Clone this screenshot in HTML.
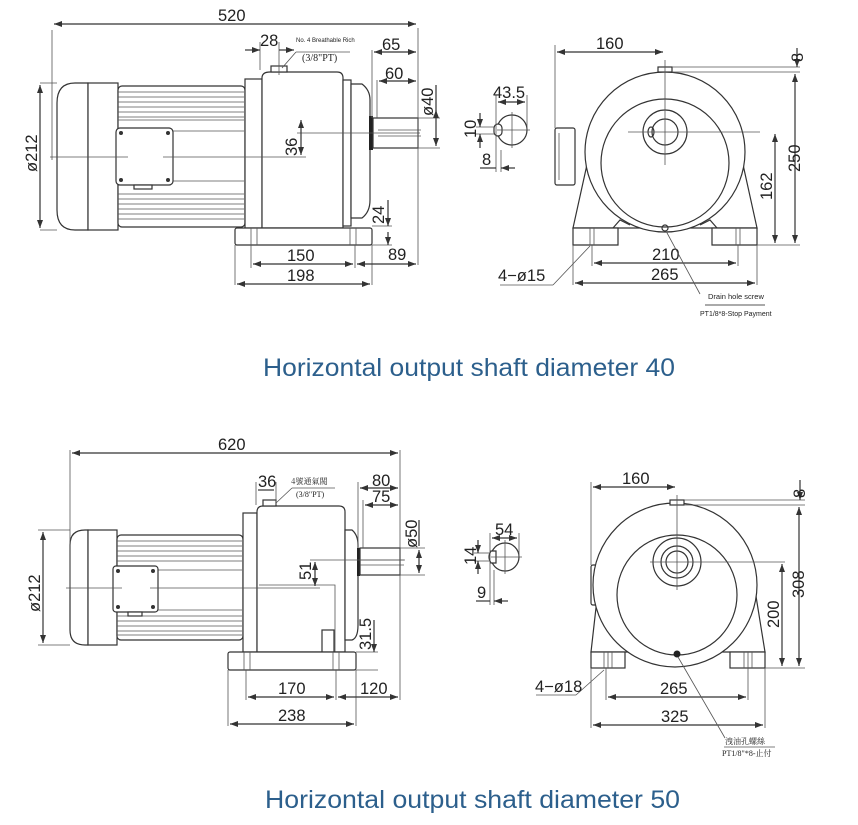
<!DOCTYPE html>
<html><head><meta charset="utf-8"><style>
html,body{margin:0;padding:0;background:#fff;}
svg{display:block}
.l{stroke:#333;stroke-width:1.2;fill:none}
.t{stroke:#555;stroke-width:0.8;fill:none}
.f{stroke:#333;stroke-width:1.2;fill:#fff}
text{font-family:"Liberation Sans",sans-serif;fill:#222}
.n{font-size:16.5px}
.ttl{font-size:25px;fill:#2c5f8c}
</style></head><body>
<svg width="858" height="825" viewBox="0 0 858 825" xmlns="http://www.w3.org/2000/svg">
<defs>
<marker id="a" markerWidth="8" markerHeight="6" refX="8" refY="3" orient="auto-start-reverse" markerUnits="userSpaceOnUse"><path d="M0,0 L8,3 L0,6z" fill="#333"/></marker>
</defs>

<!-- ================= TOP SIDE VIEW ================= -->
<g>
<path class="f" d="M88,83 L75,83 Q57,83 57,103 L57,210 Q57,230 75,230 L88,230 Z"/>
<rect class="f" x="88" y="83" width="30" height="147"/>
<rect class="f" x="118" y="86" width="127" height="141" rx="4"/>
<g class="t">
<line x1="118" y1="92" x2="244" y2="92"/><line x1="118" y1="97" x2="244" y2="97"/><line x1="118" y1="102" x2="244" y2="102"/><line x1="118" y1="107" x2="244" y2="107"/><line x1="118" y1="112" x2="244" y2="112"/><line x1="118" y1="117" x2="244" y2="117"/><line x1="118" y1="120" x2="244" y2="120"/>
<line x1="118" y1="194" x2="244" y2="194"/><line x1="118" y1="199" x2="244" y2="199"/><line x1="118" y1="204" x2="244" y2="204"/><line x1="118" y1="209" x2="244" y2="209"/><line x1="118" y1="214" x2="244" y2="214"/><line x1="118" y1="219" x2="244" y2="219"/>
<line x1="172" y1="131" x2="244" y2="131"/><line x1="172" y1="181" x2="244" y2="181"/>
</g>
<rect class="f" x="116" y="128" width="57" height="57" rx="4"/>
<circle cx="121" cy="133" r="2" fill="#333"/><circle cx="168" cy="133" r="2" fill="#333"/><circle cx="121" cy="180" r="2" fill="#333"/><circle cx="168" cy="180" r="2" fill="#333"/>
<rect class="f" x="134" y="185" width="18" height="4"/>
<rect class="f" x="245" y="79" width="17" height="149"/>
<path class="f" d="M262,228 L262,78 Q262,72 270,72 L337,72 Q343,72 343,78 L343,228 Z"/>
<rect class="f" x="271" y="66" width="16" height="6"/>
<rect class="f" x="343" y="80" width="8" height="146"/>
<path class="f" d="M351,84 L362,84 Q370,90 370,100 L370,200 Q370,212 362,218 L351,218 Z"/>
<rect x="369" y="116" width="4" height="34" fill="#222"/>
<rect class="f" x="373" y="118" width="45" height="30"/>
<line class="t" x1="378" y1="130" x2="421" y2="130"/><line class="t" x1="378" y1="136" x2="421" y2="136"/>
<rect class="f" x="235" y="228" width="137" height="17" rx="2"/>
<line class="t" x1="251" y1="228" x2="251" y2="245"/><line class="t" x1="257" y1="228" x2="257" y2="245"/>
<line class="t" x1="350" y1="228" x2="350" y2="245"/><line class="t" x1="356" y1="228" x2="356" y2="245"/>
<line class="t" x1="50" y1="157" x2="128" y2="157"/><line class="t" x1="163" y1="157" x2="306" y2="157"/>
<line class="t" x1="297" y1="133" x2="420" y2="133"/>
<line class="t" x1="52" y1="30" x2="52" y2="160"/><line class="t" x1="418" y1="28" x2="418" y2="265"/>
<line class="l" x1="54" y1="24" x2="416" y2="24" marker-start="url(#a)" marker-end="url(#a)"/>
<text class="n" x="218" y="21">520</text>
<line class="t" x1="40" y1="83" x2="57" y2="83"/><line class="t" x1="40" y1="230" x2="57" y2="230"/>
<line class="l" x1="40" y1="85" x2="40" y2="228" marker-start="url(#a)" marker-end="url(#a)"/>
<text class="n" transform="translate(37,172) rotate(-90)">ø212</text>
<line class="t" x1="260" y1="42" x2="260" y2="70"/><line class="t" x1="279" y1="42" x2="279" y2="75"/>
<line class="l" x1="245" y1="50" x2="260" y2="50" marker-end="url(#a)"/><line class="l" x1="294" y1="50" x2="279" y2="50" marker-start="url(#a)"/>
<text class="n" x="260" y="46">28</text>
<text x="296" y="42" style="font-size:6px">No. 4 Breathable Rich</text>
<text x="302" y="61" style="font-size:10px;font-family:'Liberation Serif',serif">(3/8"PT)</text>
<line class="t" x1="282" y1="68" x2="296" y2="52"/><line class="t" x1="296" y1="52" x2="350" y2="52"/>
<line class="t" x1="372" y1="50" x2="372" y2="118"/><line class="t" x1="377" y1="80" x2="377" y2="118"/>
<line class="l" x1="374" y1="52" x2="416" y2="52" marker-start="url(#a)" marker-end="url(#a)"/><text class="n" x="382" y="50">65</text>
<line class="l" x1="379" y1="81" x2="416" y2="81" marker-start="url(#a)" marker-end="url(#a)"/><text class="n" x="385" y="79">60</text>
<line class="t" x1="418" y1="118" x2="440" y2="118"/><line class="t" x1="418" y1="148" x2="440" y2="148"/>
<line class="l" x1="436" y1="85" x2="436" y2="116" /><line class="l" x1="436" y1="110" x2="436" y2="146" marker-start="url(#a)" marker-end="url(#a)"/>
<text class="n" transform="translate(433,116) rotate(-90)">ø40</text>
<line class="l" x1="301" y1="120" x2="301" y2="155" marker-start="url(#a)" marker-end="url(#a)"/>
<text class="n" transform="translate(297,156) rotate(-90)">36</text>
<line class="t" x1="372" y1="226" x2="392" y2="226"/><line class="t" x1="372" y1="245" x2="392" y2="245"/>
<line class="l" x1="388" y1="200" x2="388" y2="226" marker-end="url(#a)"/><line class="l" x1="388" y1="245" x2="388" y2="232" marker-start="url(#a)"/>
<text class="n" transform="translate(384,224) rotate(-90)">24</text>
<line class="t" x1="235" y1="245" x2="235" y2="285"/><line class="t" x1="251" y1="245" x2="251" y2="268"/><line class="t" x1="355" y1="245" x2="355" y2="268"/><line class="t" x1="372" y1="245" x2="372" y2="285"/>
<line class="l" x1="253" y1="264" x2="353" y2="264" marker-start="url(#a)" marker-end="url(#a)"/><text class="n" x="287" y="261">150</text>
<line class="l" x1="357" y1="264" x2="416" y2="264" marker-start="url(#a)" marker-end="url(#a)"/><text class="n" x="388" y="260">89</text>
<line class="l" x1="237" y1="284" x2="370" y2="284" marker-start="url(#a)" marker-end="url(#a)"/><text class="n" x="287" y="281">198</text>
</g>

<g>
<circle class="l" cx="512" cy="130" r="15"/>
<rect class="f" x="494" y="124" width="8" height="12" rx="4"/>
<line class="t" x1="497" y1="130" x2="530" y2="130"/><line class="t" x1="512" y1="112" x2="512" y2="148"/>
<line class="t" x1="496" y1="95" x2="496" y2="172"/><line class="t" x1="527" y1="95" x2="527" y2="130"/><line class="t" x1="501" y1="150" x2="501" y2="172"/>
<line class="l" x1="498" y1="102" x2="525" y2="102" marker-start="url(#a)" marker-end="url(#a)"/><text class="n" x="493" y="98">43.5</text>
<line class="t" x1="476" y1="127" x2="494" y2="127"/><line class="t" x1="476" y1="134" x2="494" y2="134"/>
<line class="l" x1="480" y1="113" x2="480" y2="127" marker-end="url(#a)"/><line class="l" x1="480" y1="148" x2="480" y2="134" marker-end="url(#a)"/>
<text class="n" transform="translate(476,138) rotate(-90)">10</text>
<line class="l" x1="480" y1="168" x2="496" y2="168"/><line class="l" x1="515" y1="168" x2="501" y2="168" marker-end="url(#a)"/>
<text class="n" x="482" y="165">8</text>
</g>

<g>
<rect class="f" x="555" y="128" width="20" height="57" rx="2"/>
<line class="t" x1="559" y1="133" x2="559" y2="180"/>
<path class="f" d="M588,160 L573,228 L757,228 L742,160 Z"/>
<circle class="f" cx="665" cy="152" r="80"/>
<circle class="l" cx="665" cy="163" r="64"/>
<circle class="l" cx="665" cy="132" r="22"/>
<circle class="l" cx="665" cy="132" r="13"/>
<ellipse class="l" cx="651" cy="132" rx="3" ry="5"/>
<rect class="f" x="658" y="67" width="14" height="5"/>
<line class="t" x1="665" y1="60" x2="665" y2="165"/><line class="t" x1="628" y1="132" x2="760" y2="132"/>
<path class="f" d="M573,228 L573,245 L618,245 L618,228 Z"/><path class="f" d="M712,228 L712,245 L757,245 L757,228 Z"/>
<line class="t" x1="590" y1="228" x2="590" y2="245"/><line class="t" x1="594" y1="228" x2="594" y2="245"/>
<line class="t" x1="736" y1="228" x2="736" y2="245"/><line class="t" x1="740" y1="228" x2="740" y2="245"/>
<path class="l" d="M613,228 L620,220 L630,225"/><path class="l" d="M717,228 L710,220 L700,225"/>
<circle class="l" cx="665" cy="228" r="3"/>
<line class="t" x1="555" y1="45" x2="555" y2="128"/>
<line class="l" x1="557" y1="52" x2="663" y2="52" marker-start="url(#a)" marker-end="url(#a)"/><text class="n" x="596" y="49">160</text>
<line class="t" x1="672" y1="67" x2="800" y2="67"/><line class="t" x1="672" y1="72" x2="800" y2="72"/>
<line class="l" x1="797" y1="48" x2="797" y2="67" marker-end="url(#a)"/>
<text class="n" transform="translate(803,62) rotate(-90)">8</text>
<line class="l" x1="795" y1="74" x2="795" y2="243" marker-start="url(#a)" marker-end="url(#a)"/>
<text class="n" transform="translate(800,172) rotate(-90)">250</text>
<line class="t" x1="757" y1="245" x2="800" y2="245"/>
<line class="l" x1="775" y1="134" x2="775" y2="243" marker-start="url(#a)" marker-end="url(#a)"/>
<text class="n" transform="translate(772,200) rotate(-90)">162</text>
<line class="t" x1="573" y1="245" x2="573" y2="285"/><line class="t" x1="757" y1="245" x2="757" y2="285"/>
<line class="t" x1="592" y1="245" x2="592" y2="266"/><line class="t" x1="738" y1="245" x2="738" y2="266"/>
<line class="l" x1="594" y1="263" x2="736" y2="263" marker-start="url(#a)" marker-end="url(#a)"/><text class="n" x="652" y="260">210</text>
<line class="l" x1="575" y1="283" x2="755" y2="283" marker-start="url(#a)" marker-end="url(#a)"/><text class="n" x="651" y="280">265</text>
<line class="t" x1="500" y1="285" x2="553" y2="285"/><line class="t" x1="553" y1="285" x2="590" y2="246"/>
<text class="n" x="498" y="281">4−ø15</text>
<line class="t" x1="666" y1="231" x2="700" y2="294"/>
<text x="708" y="299" style="font-size:7.5px">Drain hole screw</text>
<line x1="705" y1="305" x2="765" y2="305" stroke="#555" stroke-width="1"/>
<text x="700" y="316" style="font-size:7px">PT1/8*8-Stop Payment</text>
</g>

<text class="ttl" x="263" y="376" textLength="412" lengthAdjust="spacingAndGlyphs">Horizontal output shaft diameter 40</text>

<g>
<path class="f" d="M88,530 L85,530 Q70,530 70,545 L70,630 Q70,645 85,645 L88,645 Z"/>
<rect class="f" x="88" y="530" width="29" height="115"/>
<rect class="f" x="117" y="535" width="126" height="105" rx="4"/>
<g class="t">
<line x1="117" y1="541" x2="242" y2="541"/><line x1="117" y1="546" x2="242" y2="546"/><line x1="117" y1="551" x2="242" y2="551"/><line x1="117" y1="556" x2="242" y2="556"/><line x1="117" y1="561" x2="242" y2="561"/>
<line x1="117" y1="616" x2="242" y2="616"/><line x1="117" y1="621" x2="242" y2="621"/><line x1="117" y1="626" x2="242" y2="626"/><line x1="117" y1="631" x2="242" y2="631"/><line x1="117" y1="635" x2="242" y2="635"/>
<line x1="158" y1="570" x2="242" y2="570"/><line x1="158" y1="610" x2="242" y2="610"/>
</g>
<rect class="f" x="113" y="566" width="45" height="46" rx="3"/>
<circle cx="118" cy="571" r="2" fill="#333"/><circle cx="153" cy="571" r="2" fill="#333"/><circle cx="118" cy="607" r="2" fill="#333"/><circle cx="153" cy="607" r="2" fill="#333"/>
<rect class="f" x="128" y="612" width="14" height="4"/>
<rect class="f" x="243" y="513" width="14" height="139"/>
<path class="f" d="M257,652 L257,512 Q257,506 263,506 L339,506 Q345,506 345,512 L345,652 Z"/>
<rect class="f" x="263" y="500" width="13" height="6"/>
<path class="f" d="M345,530 L352,530 Q358,535 358,545 L358,625 Q358,638 352,640 L345,640 Z"/>
<rect x="357" y="548" width="3" height="28" fill="#222"/>
<rect class="f" x="360" y="548" width="40" height="27"/>
<line class="t" x1="360" y1="560" x2="404" y2="560"/><line class="t" x1="360" y1="565" x2="404" y2="565"/>
<rect class="f" x="322" y="630" width="12" height="22"/>
<path class="t" d="M259,585 L335,585 L335,652"/>
<rect class="f" x="228" y="652" width="128" height="18" rx="2"/>
<line class="t" x1="244" y1="652" x2="244" y2="670"/><line class="t" x1="250" y1="652" x2="250" y2="670"/>
<line class="t" x1="333" y1="652" x2="333" y2="670"/><line class="t" x1="339" y1="652" x2="339" y2="670"/>
<line class="t" x1="66" y1="588" x2="122" y2="588"/><line class="t" x1="150" y1="588" x2="320" y2="588"/>
<line class="t" x1="310" y1="560" x2="405" y2="560"/>
<line class="t" x1="70" y1="450" x2="70" y2="590"/><line class="t" x1="400" y1="450" x2="400" y2="700"/>
<line class="l" x1="72" y1="453" x2="398" y2="453" marker-start="url(#a)" marker-end="url(#a)"/><text class="n" x="218" y="450">620</text>
<line class="t" x1="38" y1="530" x2="70" y2="530"/><line class="t" x1="38" y1="645" x2="70" y2="645"/>
<line class="l" x1="43" y1="532" x2="43" y2="643" marker-start="url(#a)" marker-end="url(#a)"/>
<text class="n" transform="translate(40,612) rotate(-90)">ø212</text>
<line class="t" x1="256" y1="482" x2="256" y2="505"/><line class="t" x1="276" y1="482" x2="276" y2="505"/>
<line class="l" x1="258" y1="490" x2="274" y2="490"/><text class="n" x="258" y="487">36</text>
<text x="291" y="484" style="font-size:8px;font-family:'Noto Serif CJK SC',serif">4號通氣閥</text>
<text x="296" y="497" style="font-size:8px;font-family:'Liberation Serif',serif">(3/8"PT)</text>
<line class="t" x1="276" y1="503" x2="292" y2="488"/><line class="t" x1="292" y1="488" x2="335" y2="488"/>
<line class="t" x1="358" y1="482" x2="358" y2="548"/><line class="t" x1="363" y1="500" x2="363" y2="548"/>
<line class="l" x1="360" y1="488" x2="398" y2="488" marker-start="url(#a)" marker-end="url(#a)"/><text class="n" x="372" y="486">80</text>
<line class="l" x1="365" y1="505" x2="398" y2="505" marker-start="url(#a)" marker-end="url(#a)"/><text class="n" x="372" y="502">75</text>
<line class="t" x1="400" y1="548" x2="425" y2="548"/><line class="t" x1="400" y1="575" x2="425" y2="575"/>
<line class="l" x1="419" y1="520" x2="419" y2="546"/><line class="l" x1="419" y1="550" x2="419" y2="573" marker-start="url(#a)" marker-end="url(#a)"/>
<text class="n" transform="translate(417,548) rotate(-90)">ø50</text>
<line class="l" x1="315" y1="562" x2="315" y2="586" marker-start="url(#a)" marker-end="url(#a)"/>
<text class="n" transform="translate(311,580) rotate(-90)">51</text>
<line class="t" x1="356" y1="652" x2="378" y2="652"/><line class="t" x1="356" y1="670" x2="378" y2="670"/>
<line class="l" x1="374" y1="620" x2="374" y2="652" marker-end="url(#a)"/>
<text class="n" transform="translate(371,650) rotate(-90)">31.5</text>
<line class="t" x1="228" y1="670" x2="228" y2="726"/><line class="t" x1="246" y1="670" x2="246" y2="700"/><line class="t" x1="336" y1="670" x2="336" y2="700"/><line class="t" x1="356" y1="670" x2="356" y2="726"/>
<line class="l" x1="248" y1="697" x2="334" y2="697" marker-start="url(#a)" marker-end="url(#a)"/><text class="n" x="278" y="694">170</text>
<line class="l" x1="338" y1="697" x2="398" y2="697" marker-start="url(#a)" marker-end="url(#a)"/><text class="n" x="360" y="694">120</text>
<line class="l" x1="230" y1="724" x2="354" y2="724" marker-start="url(#a)" marker-end="url(#a)"/><text class="n" x="278" y="721">238</text>
</g>

<g>
<circle class="l" cx="505" cy="557" r="14"/>
<path class="f" d="M491,551 L496,551 L496,563 L491,563 Q487,557 491,551Z"/>
<line class="t" x1="491" y1="557" x2="522" y2="557"/><line class="t" x1="505" y1="540" x2="505" y2="574"/>
<line class="t" x1="490" y1="533" x2="490" y2="605"/><line class="t" x1="519" y1="533" x2="519" y2="557"/><line class="t" x1="494" y1="570" x2="494" y2="605"/>
<line class="l" x1="492" y1="538" x2="517" y2="538" marker-start="url(#a)" marker-end="url(#a)"/><text class="n" x="495" y="535">54</text>
<line class="t" x1="474" y1="553" x2="490" y2="553"/><line class="t" x1="474" y1="561" x2="490" y2="561"/>
<line class="l" x1="478" y1="540" x2="478" y2="553" marker-end="url(#a)"/><line class="l" x1="478" y1="574" x2="478" y2="561" marker-end="url(#a)"/>
<text class="n" transform="translate(476,565) rotate(-90)">14</text>
<line class="l" x1="476" y1="601" x2="490" y2="601"/><line class="l" x1="508" y1="601" x2="494" y2="601" marker-end="url(#a)"/>
<text class="n" x="477" y="598">9</text>
</g>

<g>
<rect class="f" x="591" y="565" width="8" height="40" rx="2"/>
<path class="f" d="M598,590 L591,652 L765,652 L755,590 Z"/>
<circle class="f" cx="675" cy="585" r="82"/>
<circle class="l" cx="677" cy="595" r="60"/>
<circle class="l" cx="677" cy="562" r="24"/>
<circle class="l" cx="677" cy="562" r="16"/>
<circle class="l" cx="677" cy="562" r="11"/>
<rect class="f" x="670" y="500" width="14" height="5"/>
<line class="t" x1="677" y1="495" x2="677" y2="590"/><line class="t" x1="650" y1="562" x2="785" y2="562"/>
<rect class="f" x="591" y="652" width="34" height="16"/><rect class="f" x="730" y="652" width="35" height="16"/>
<line class="t" x1="604" y1="652" x2="604" y2="668"/><line class="t" x1="608" y1="652" x2="608" y2="668"/><line class="t" x1="612" y1="652" x2="612" y2="668"/>
<line class="t" x1="744" y1="652" x2="744" y2="668"/><line class="t" x1="748" y1="652" x2="748" y2="668"/><line class="t" x1="752" y1="652" x2="752" y2="668"/>
<circle cx="677" cy="654" r="3.5" fill="#222"/>
<line class="t" x1="591" y1="482" x2="591" y2="565"/>
<line class="l" x1="593" y1="487" x2="675" y2="487" marker-start="url(#a)" marker-end="url(#a)"/><text class="n" x="622" y="484">160</text>
<line class="t" x1="684" y1="500" x2="805" y2="500"/><line class="t" x1="684" y1="505" x2="805" y2="505"/>
<line class="l" x1="800" y1="480" x2="800" y2="500" marker-end="url(#a)"/>
<text class="n" transform="translate(805,498) rotate(-90)">8</text>
<line class="l" x1="799" y1="507" x2="799" y2="666" marker-start="url(#a)" marker-end="url(#a)"/>
<text class="n" transform="translate(804,598) rotate(-90)">308</text>
<line class="t" x1="765" y1="668" x2="805" y2="668"/>
<line class="l" x1="782" y1="564" x2="782" y2="666" marker-start="url(#a)" marker-end="url(#a)"/>
<text class="n" transform="translate(779,628) rotate(-90)">200</text>
<line class="t" x1="591" y1="668" x2="591" y2="728"/><line class="t" x1="765" y1="668" x2="765" y2="728"/>
<line class="t" x1="606" y1="668" x2="606" y2="700"/><line class="t" x1="748" y1="668" x2="748" y2="700"/>
<line class="l" x1="608" y1="697" x2="746" y2="697" marker-start="url(#a)" marker-end="url(#a)"/><text class="n" x="660" y="694">265</text>
<line class="l" x1="593" y1="725" x2="763" y2="725" marker-start="url(#a)" marker-end="url(#a)"/><text class="n" x="661" y="722">325</text>
<line class="t" x1="536" y1="695" x2="576" y2="695"/><line class="t" x1="576" y1="695" x2="604" y2="670"/>
<text class="n" x="535" y="692">4−ø18</text>
<line class="t" x1="678" y1="657" x2="725" y2="738"/>
<text x="725" y="744" style="font-size:8px;font-family:'Noto Serif CJK SC',serif">洩油孔螺絲</text>
<line x1="724" y1="747" x2="775" y2="747" stroke="#555" stroke-width="0.8"/>
<text x="722" y="756" style="font-size:8px;font-family:'Liberation Serif','Noto Serif CJK SC',serif">PT1/8"*8-止付</text>
</g>

<text class="ttl" x="265" y="808" textLength="415" lengthAdjust="spacingAndGlyphs">Horizontal output shaft diameter 50</text>
</svg>
</body></html>
